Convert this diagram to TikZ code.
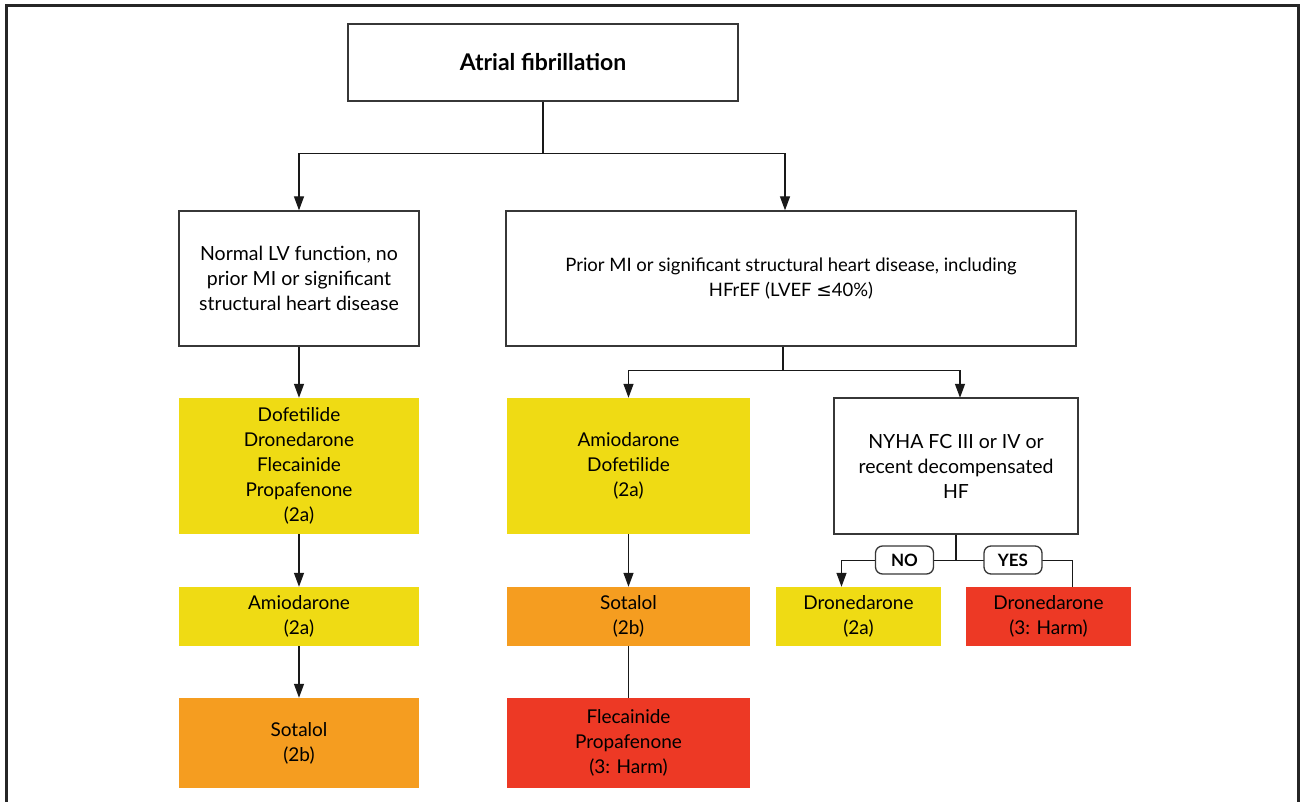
\documentclass[tikz,border=0pt]{standalone}
\usepackage{fontspec}
\setmainfont{Lato}
\newfontfamily\symbolfont{DejaVu Sans}
\usetikzlibrary{arrows.meta, positioning}
\definecolor{drugyellow}{RGB}{239,219,20}
\definecolor{drugorange}{RGB}{245,157,32}
\definecolor{drugred}{RGB}{237,57,37}
\definecolor{boxline}{RGB}{55,55,55}
\tikzset{>={Triangle[length=14pt,width=10pt]}}
\tikzset{
    box/.style={draw=boxline, line width=1.3pt, fill=white, align=center, inner sep=0pt,
        font=\fontsize{19.5}{25}\selectfont},
    drug/.style={fill=#1, align=center, inner sep=0pt, font=\fontsize{19}{25}\selectfont},
    tag/.style={draw=boxline, line width=1.3pt, rounded corners=7pt, fill=white, inner sep=0pt,
        minimum width=58pt, minimum height=28pt, font=\fontsize{17}{20}\selectfont\bfseries},
    link/.style={draw=black!90, line width=1.3pt}
}

\begin{document}
\begin{tikzpicture}[x=1pt, y=-1pt]
    \useasboundingbox (0,0) rectangle (1301,802);
    % frame, open at the bottom
    \draw[line width=3pt, black!85] (6,802) -- (6,6) -- (1298,6) -- (1298,802);

    \node[box, minimum width=390pt, minimum height=77pt, font=\fontsize{23}{25}\selectfont\bfseries] (af) at (543,62.5) {Atrial fibrillation};
    \node[box, minimum width=240pt, minimum height=135pt] (normal) at (299,278.5) {Normal LV function, no\\prior MI or significant\\structural heart disease};
    \node[box, minimum width=570pt, minimum height=135pt, font=\fontsize{18.5}{25}\selectfont] (prior) at (791,278.5) {Prior MI or significant structural heart disease, including\\HFrEF (LVEF {\symbolfont ≤}40\%)};

    % left column
    \node[drug=drugyellow, minimum width=240pt, minimum height=136pt] (first1) at (299,466) {Dofetilide\\Dronedarone\\Flecainide\\Propafenone\\(2a)};
    \node[drug=drugyellow, minimum width=240pt, minimum height=59pt] (second1) at (299,616.5) {Amiodarone\\(2a)};
    \node[drug=drugorange, minimum width=240pt, minimum height=90pt] (third1) at (299,743) {Sotalol\\(2b)};

    % middle column
    \node[drug=drugyellow, minimum width=243pt, minimum height=136pt] (first2) at (628.5,466) {Amiodarone\\Dofetilide\\(2a)};
    \node[drug=drugorange, minimum width=243pt, minimum height=59pt] (second2) at (628.5,616.5) {Sotalol\\(2b)};
    \node[drug=drugred, minimum width=243pt, minimum height=90pt] (harm2) at (628.5,743) {Flecainide\\Propafenone\\(3: Harm)};

    % right column
    \node[box, minimum width=244pt, minimum height=136pt] (nyha) at (956,466) {NYHA FC III or IV or\\recent decompensated\\HF};
    \node[drug=drugyellow, minimum width=165pt, minimum height=59pt] (dronOk) at (858.5,616.5) {Dronedarone\\(2a)};
    \node[drug=drugred, minimum width=165pt, minimum height=59pt] (dronHarm) at (1048.5,616.5) {Dronedarone\\(3: Harm)};

    % connectors
    \draw[link] (af.south) -- ++(0,52) coordinate (split1);
    \draw[link,->] (split1) -| (normal.north);
    \draw[link,->] (split1) -| ([xshift=-6pt]prior.north);
    \draw[link,->] (normal.south) -- (first1.north);
    \draw[link,->] (first1.south) -- (second1.north);
    \draw[link,->] (second1.south) -- (third1.north);

    \draw[link] ([xshift=-8pt]prior.south) -- ++(0,24) coordinate (split2);
    \draw[link,->] (split2) -| (first2.north);
    \draw[link,->] (split2) -| ([xshift=4pt]nyha.north |- first2.north);
    \draw[link,->] (first2.south) -- (second2.north);
    \draw[link] (second2.south) -- (harm2.north);

    \draw[link] (nyha.south) -- ++(0,26) coordinate (split3);
    \draw[link,->] (split3) -| ([xshift=-17pt]dronOk.north);
    \draw[link] (split3) -| ([xshift=24pt]dronHarm.north);
    \node[tag] (no) at (904.5,560) {NO};
    \node[tag] (yes) at (1013,560) {YES};
\end{tikzpicture}
\end{document}
